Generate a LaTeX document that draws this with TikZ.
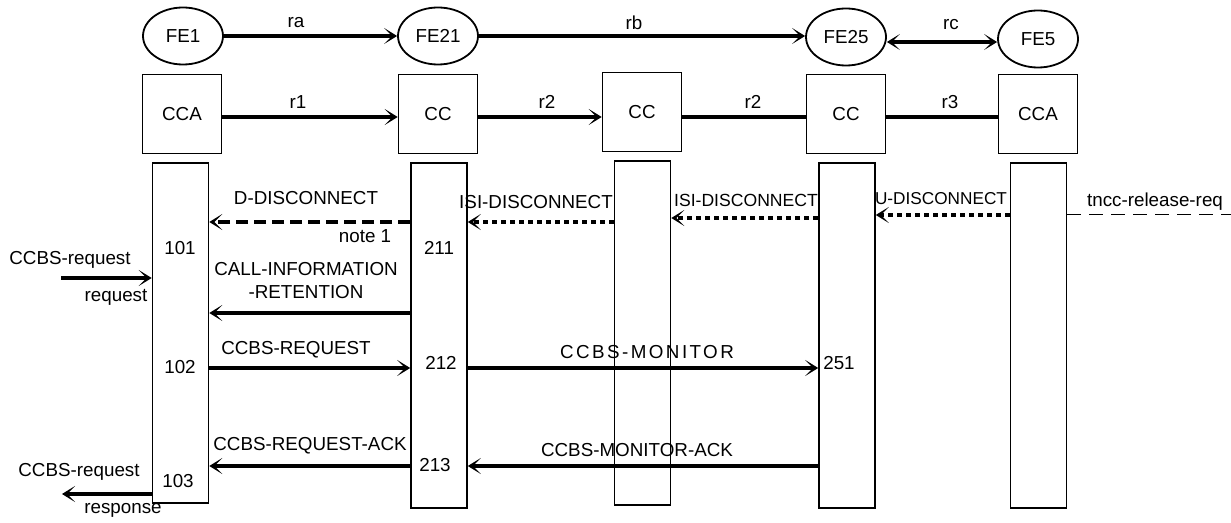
\documentclass[tikz,border=0pt]{standalone}
\usepackage{fontspec}
\setmainfont{Liberation Sans}
\usetikzlibrary{arrows.meta,shapes.geometric}
\begin{document}
\begin{tikzpicture}[x=0.5pt,y=-0.5pt,
  >={Stealth[length=6.5pt,width=8pt,inset=4pt]},
  every node/.style={font=\fontsize{9.4}{11}\selectfont, inner sep=0pt},
  fe/.style={draw, ellipse, line width=0.9pt, minimum width=40pt, minimum height=28.5pt},
  box/.style={draw, line width=0.8pt, minimum width=39.5pt, minimum height=39.5pt},
  bar/.style={draw, line width=0.8pt, minimum width=28pt},
  msg/.style={line width=1.6pt, ->},
  link/.style={line width=1.6pt},
  dashmsg/.style={msg, dash pattern=on 6pt off 3pt},
  dotmsg/.style={msg, dash pattern=on 2.5pt off 2pt},
  thindash/.style={line width=0.5pt, dash pattern=on 7pt off 4pt},
  spaced/.style={font=\fontsize{9.4}{11}\selectfont\addfontfeature{LetterSpace=13}}
]
\useasboundingbox (0,0) rectangle (1231,523);

% functional entities
\node[fe] (fe1) at (183,36) {FE1};
\node[fe] (fe21) at (438,36) {FE21};
\node[fe] (fe25) at (846,37) {FE25};
\node[fe] (fe5) at (1038,39) {FE5};

% boxes
\node[box] (cca1) at (182,114) {CCA};
\node[box] (cc1) at (438,114) {CC};
\node[box] (cc2) at (642,112) {CC};
\node[box] (cc3) at (846,114) {CC};
\node[box] (cca2) at (1038,114) {CCA};

% bars
\node[bar, minimum height=170pt] (b1) at (180.5,333) {};
\node[bar, minimum height=172.5pt] (b2) at (439,335.5) {};
\node[bar, minimum height=172pt] (b3) at (642.5,333) {};
\node[bar, minimum height=172.5pt] (b4) at (847,335.5) {};
\node[bar, minimum height=172.5pt] (b5) at (1038.5,335.5) {};

% level coordinates
\coordinate (yr) at (0,117);
\coordinate (y222) at (0,222);
\coordinate (y218) at (0,218);
\coordinate (y215) at (0,215);
\coordinate (y216) at (0,215);
\coordinate (y313) at (0,313);
\coordinate (y368) at (0,368);
\coordinate (y466) at (0,466);
\coordinate (inL) at (61,278);
\coordinate (outL) at (62,494);
\coordinate (tnccEnd) at (1231,215);

% top row connectors
\draw[msg] (fe1.east) -- (fe21.west);
\draw[msg] (fe21.east) -- (fe21.east -| fe25.west);
\draw[link, <->] (fe25.east |- 0,42) -- (fe5.west |- 0,42);
\node (lra) at (296,23) {ra};
\node (lrb) at (634,23) {rb};
\node (lrc) at (951,25) {rc};

% second row connectors
\draw[msg] (cca1.east |- yr) -- (cc1.west |- yr);
\draw[msg] (cc1.east |- yr) -- (cc2.west |- yr);
\draw[link] (cc2.east |- yr) -- (cc3.west |- yr);
\draw[link] (cc3.east |- yr) -- (cca2.west |- yr);
\node (lr1) at (298,102) {r1};
\node (lr2a) at (547,102) {r2};
\node (lr2b) at (753,102) {r2};
\node (lr3) at (950,102) {r3};

% disconnect messages
\draw[dashmsg] (b2.west |- y222) -- (b1.east |- y222);
\draw[dotmsg] (b3.west |- y222) -- (b2.east |- y222);
\draw[dotmsg] (b4.west |- y218) -- (b3.east |- y218);
\draw[dotmsg] (b5.west |- y215) -- (b4.east |- y215);
\draw[thindash] (b5.east |- y216) -- (tnccEnd);
\node (ldd) at (306,198) {D-DISCONNECT};
\node (lnote) at (365,236) {note 1};
\node (lisi1) at (536,202) {ISI-DISCONNECT};
\node[font=\fontsize{8.8}{10}\selectfont] (lisi2) at (746,200) {ISI-DISCONNECT};
\node[font=\fontsize{8.6}{10}\selectfont] (lud) at (941,199) {U-DISCONNECT};
\node (ltncc) at (1155,202) {tncc-release-req};

% numbers
\node (n101) at (180,248) {101};
\node (n211) at (439,248) {211};
\node (n102) at (180,367) {102};
\node (n212) at (441,363) {212};
\node (n251) at (839,363) {251};
\node (n213) at (435,465) {213};
\node (n103) at (178,481) {103};

% CCBS request in
\draw[msg] (inL) -- (b1.west |- inL);
\node (lreq1) at (70,260) {CCBS-request};
\node (lreq2) at (116,297) {request};

% call information retention
\draw[msg] (b2.west |- y313) -- (b1.east |- y313);
\node (lcir1) at (306,269) {CALL-INFORMATION};
\node (lcir2) at (306,292) {-RETENTION};

% CCBS request / monitor
\draw[msg] (b1.east |- y368) -- (b2.west |- y368);
\draw[msg] (b2.east |- y368) -- (b4.west |- y368);
\node (lcreq) at (296,350) {CCBS-REQUEST};
\node[spaced] (lmon) at (647,352) {CCBS-MONITOR};

% acks
\draw[msg] (b2.west |- y466) -- (b1.east |- y466);
\draw[msg] (b4.west |- y466) -- (b2.east |- y466);
\node (lcack) at (310,446) {CCBS-REQUEST-ACK};
\node (lmack) at (637,450) {CCBS-MONITOR-ACK};

% CCBS response out
\draw[msg] (b1.west |- outL) -- (outL);
\node (lresp1) at (79,472) {CCBS-request};
\node (lresp2) at (123,510) {response};
\end{tikzpicture}
\end{document}
